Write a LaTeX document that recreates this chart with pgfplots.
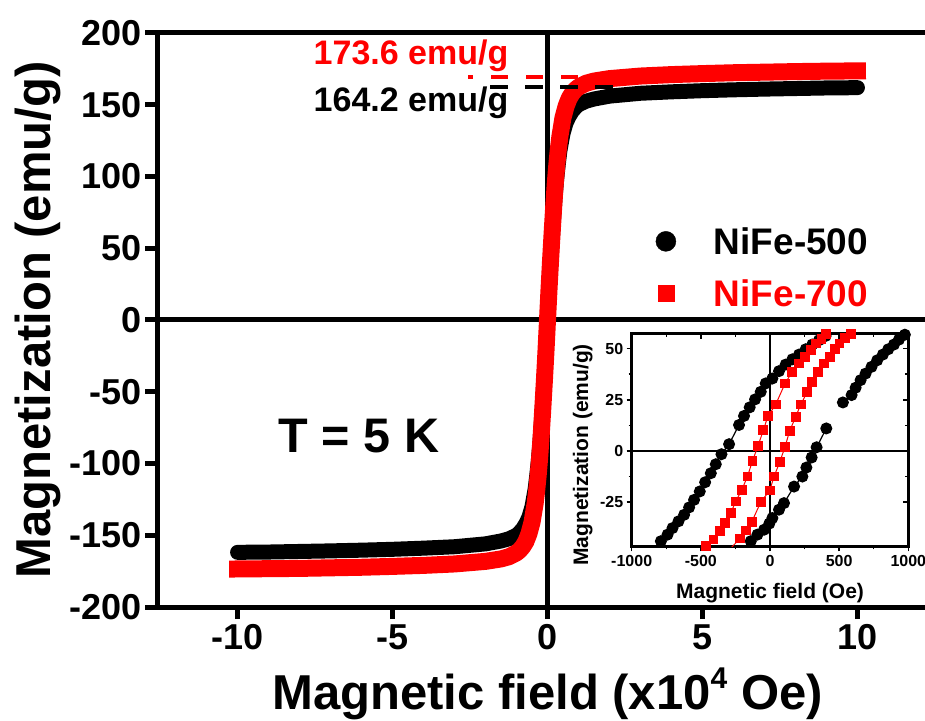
\documentclass[border=0pt]{standalone}
\usepackage{fontspec}
\setmainfont{Liberation Sans}
\usepackage{pgfplots}
\pgfplotsset{compat=1.18}
\definecolor{myred}{RGB}{255,0,0}
\begin{document}
\begin{tikzpicture}
\path[use as bounding box] (0pt,0pt) rectangle (925pt,720pt);
\begin{axis}[
  at={(157pt,113pt)}, anchor=south west,
  scale only axis, width=781pt, height=574pt,
  xmin=-12.6, xmax=12.6, ymin=-200, ymax=200,
  axis line style={line width=5pt, line cap=rect},
  xtick={-10,-5,0,5,10}, xticklabels={-10,-5,0,5,10},
  ytick={-200,-150,-100,-50,0,50,100,150,200},
  yticklabels={-200,-150,-100,-50,0,50,100,150,200},
  xtick pos=left, ytick pos=left, tick align=outside,
  major tick length=12pt,
  tick style={line width=5pt, black},
  tick label style={font=\fontsize{36}{36}\selectfont\bfseries},
  xticklabel style={yshift=-2pt},
  xlabel={Magnetic field (x10\raisebox{0.42em}{\fontsize{30}{30}\selectfont 4} Oe)},
  ylabel={Magnetization (emu/g)},
  label style={font=\fontsize{49}{49}\selectfont\bfseries},
  xlabel style={at={(axis description cs:0.5,-0.1785)}, anchor=base},
  ylabel style={at={(axis description cs:-0.137,0.5)}, anchor=base},
  legend style={at={(axis cs:3.484,64.8)}, anchor=north west, draw=none, fill=none,
    inner sep=0pt, nodes={inner sep=0pt}, row sep=24pt,
    font=\fontsize{37}{37}\selectfont\bfseries},
  legend cell align=left,
]
% zero lines
\addplot[line width=5pt, black, forget plot] coordinates {(-12.6,0) (12.6,0)};
\addplot[line width=5pt, black, forget plot] coordinates {(0,-200) (0,200)};
% NiFe-500
\addplot[line width=15pt, black, line cap=round, line join=round, forget plot] coordinates {
(-10,-161.9) (-9,-161.7) (-8,-161.3) (-7,-160.9) (-6,-160.4) (-5,-159.8) (-4,-159) (-3,-158) (-2,-156) (-1.5,-154) (-1.25,-152.5) (-1,-150) (-0.9,-148) (-0.8,-145.5) (-0.7,-142) (-0.6,-137.5) (-0.5,-130) (-0.4,-118) (-0.35,-109) (-0.3,-99) (-0.25,-87) (-0.2,-72) (-0.15,-55) (-0.1,-38) (-0.05,-20) (0,0) (0.05,20) (0.1,38) (0.15,55) (0.2,72) (0.25,87) (0.3,99) (0.35,109) (0.4,118) (0.5,130) (0.6,137.5) (0.7,142) (0.8,145.5) (0.9,148) (1,150) (1.25,152.5) (1.5,154) (2,156) (3,158) (4,159) (5,159.8) (6,160.4) (7,160.9) (8,161.3) (9,161.7) (10,161.9)
};
% NiFe-700
\addplot[line width=17pt, myred, line cap=rect, line join=round, forget plot] coordinates {
(-10,-173.5) (-9,-173.3) (-8,-173.1) (-7,-172.7) (-6,-172.3) (-5,-171.7) (-4,-171) (-3,-170) (-2,-168.2) (-1.5,-166.5) (-1.25,-165) (-1,-162.3) (-0.9,-160.5) (-0.8,-158) (-0.7,-154.5) (-0.6,-149) (-0.5,-141) (-0.4,-128) (-0.35,-119) (-0.3,-108) (-0.25,-95) (-0.2,-79) (-0.15,-61) (-0.1,-42) (-0.05,-22) (0,0) (0.05,22) (0.1,42) (0.15,61) (0.2,79) (0.25,95) (0.3,108) (0.35,119) (0.4,128) (0.5,141) (0.6,149) (0.7,154.5) (0.8,158) (0.9,160.5) (1,162.3) (1.25,165) (1.5,166.5) (2,168.2) (3,170) (4,171) (5,171.7) (6,172.3) (7,172.7) (8,173.1) (9,173.4) (10,173.6)
};
% saturation guides
\addplot[line width=4pt, myred, dash pattern=on 17pt off 18pt, dash phase=12pt, forget plot] coordinates {(-2.55,169.5) (1.0,169.5)};
\addplot[line width=4pt, black, dash pattern=on 18pt off 17pt, forget plot] coordinates {(-1.84,162.6) (2.13,162.6)};
\node[anchor=base west, text=myred, font=\fontsize{34}{34}\selectfont\bfseries, inner sep=0pt] at (axis cs:-7.55,177.7) {173.6 emu/g};
\node[anchor=base west, text=black, font=\fontsize{34}{34}\selectfont\bfseries, inner sep=0pt] at (axis cs:-7.55,145.2) {164.2 emu/g};
\node[anchor=base west, font=\fontsize{48.5}{48.5}\selectfont\bfseries, inner sep=0pt] at (axis cs:-8.68,-92) {T = 5 K};
\addlegendimage{legend image code/.code={\path[draw=none,fill=none] (0pt,-12pt) rectangle (58pt,12pt); \fill[black] (10pt,0pt) circle (10pt);}}
\addlegendentry{NiFe-500}
\addlegendimage{legend image code/.code={\path[draw=none,fill=none] (0pt,-12pt) rectangle (58pt,12pt); \fill[myred] (2pt,-8pt) rectangle (18pt,8pt);}}
\addlegendentry{\textcolor{myred}{NiFe-700}}
\end{axis}

% inset
\begin{axis}[
  at={(631.7pt,173.7pt)}, anchor=south west,
  scale only axis, width=276.6pt, height=212.6pt,
  xmin=-1000, xmax=1000, ymin=-46.6, ymax=57.3,
  axis line style={line width=2.5pt},
  xtick={-1000,-500,0,500,1000}, xticklabels={-1000,-500,0,500,1000},
  ytick={-25,0,25,50}, yticklabels={-25,0,25,50},
  minor x tick num=1, minor y tick num=1,
  xtick pos=left, ytick pos=left, tick align=outside,
  major tick length=5pt, minor tick length=3pt,
  tick style={line width=1.5pt, black},
  tick label style={font=\fontsize{16}{16}\selectfont\bfseries},
  xlabel={Magnetic field (Oe)},
  ylabel={Magnetization (emu/g)},
  label style={font=\fontsize{21}{21}\selectfont\bfseries},
  xlabel style={at={(axis description cs:0.5,-0.2446)}, anchor=base},
  ylabel style={at={(axis description cs:-0.158,0.43)}, anchor=base},
]
\addplot[line width=2pt, black] coordinates {(-1000,0) (1000,0)};
\addplot[line width=2pt, black] coordinates {(0,-46.6) (0,57.3)};
% NiFe-500 upper branch
\addplot[black, line width=1.2pt, mark=*, mark size=5.4pt] coordinates {
(450,58.1) (402,56.2) (354,54.1) (306,52) (258,49.7) (210,47.1) (162,44.8) (113,42.2) (65,39) (17,35.4) (-31,33) (-67,28.9) (-108,25.2) (-147,21.3) (-188,17.1) (-224,12.7) (-296,3.3) (-351,-1.6) (-392,-6.5) (-428,-10.9) (-469,-15.3) (-508,-19.8) (-549,-23.9) (-585,-27.6) (-621,-31.2) (-662,-34.4) (-705,-37.7) (-741,-40.9) (-789,-44.1) (-830,-47)
};
% NiFe-500 lower branch
\addplot[black, line width=1.2pt, mark=*, mark size=5.4pt] coordinates {
(-175,-46.8) (-139,-44.1) (-91,-40.9) (-43,-38.5) (-5,-35.5) (17,-32.8) (65,-28.7) (101,-25.5) (174,-17.4) (234,-12.5) (263,-8.1) (301,-3.2) (337,1.8) (407,11)
};
\addplot[black, line width=1.2pt, mark=*, mark size=5.4pt] coordinates {
(527,23.7) (590,27.3) (619,30.9) (655,34.6) (691,37.8) (734,41.1) (775,44.3) (816,47.1) (855,49.7) (896,52) (932,54.4) (975,56.8) (1010,58.5)
};
% NiFe-700 upper branch
\addplot[myred, line width=1pt, mark=square*, mark size=4.4pt] coordinates {
(407,57.3) (373,54.9) (335,52.5) (294,49.2) (253,46) (210,42.7) (161,38.7) (109,33) (41,22.7) (-15,17) (-48,10.2) (-86,2.6) (-127,-4.9) (-163,-12.5) (-204,-19) (-248,-24.7) (-284,-30.3) (-327,-35.2) (-363,-39.3) (-409,-43.3) (-464,-46.5)
};
% NiFe-700 lower branch
\addplot[myred, line width=1pt, mark=square*, mark size=4.4pt] coordinates {
(-277,-47) (-216,-42.8) (-175,-38.9) (-132,-34.7) (-67,-25) (-2,-19.3) (29,-12.5) (70,-5.5) (109,2.1) (142,9.8) (186,16.7) (222,22.7) (270,28.9) (306,33.8) (349,38.7) (390,42.7) (431,46) (470,49.7) (503,52.5) (542,55.2) (583,57.3)
};
\end{axis}
% inward ticks on top and right of inset
\begin{axis}[
  at={(631.7pt,173.7pt)}, anchor=south west,
  scale only axis, width=276.6pt, height=212.6pt,
  xmin=-1000, xmax=1000, ymin=-46.6, ymax=57.3,
  axis line style={draw=none},
  xtick={-1000,-500,0,500,1000}, xticklabels={},
  ytick={-25,0,25,50}, yticklabels={},
  minor x tick num=1, minor y tick num=1,
  xtick pos=right, ytick pos=right, tick align=inside,
  major tick length=5pt, minor tick length=3pt,
  tick style={line width=1.5pt, black},
]
\end{axis}
\end{tikzpicture}
\end{document}
